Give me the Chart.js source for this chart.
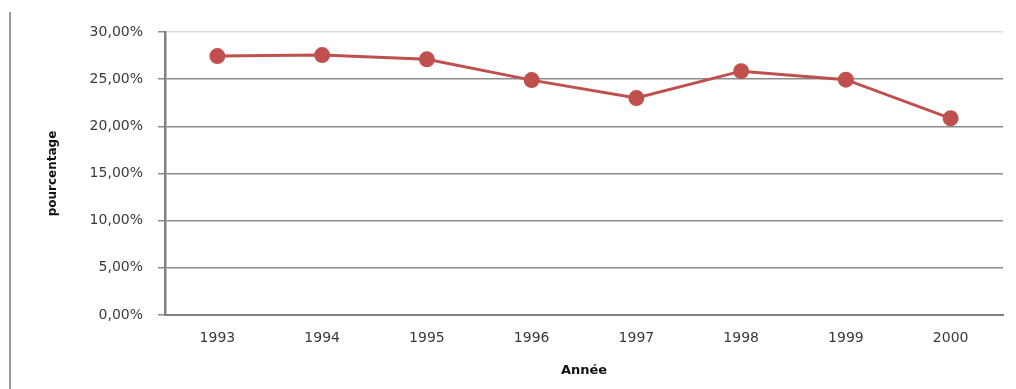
<!DOCTYPE html>
<html>
<head>
<meta charset="utf-8">
<script src="https://cdn.jsdelivr.net/npm/chart.js@4/dist/chart.umd.min.js"></script>
<style>
  html, body { margin: 0; padding: 0; background: #fff; }
  #cadre { position: relative; width: 1016px; height: 389px; }
  #bord { position: absolute; left: 9px; top: 12px; width: 2px; height: 377px; background: #9a9a9a; }
</style>
</head>
<body>
<div id="cadre">
  <div id="bord"></div>
  <canvas id="graphique" width="1016" height="389"></canvas>
</div>
<script>
var couleurLigne = "#c0504d";
var couleurGrille = "#8c8c8c";
var couleurAxe = "#7f7f7f";

var annees = ['1993', '1994', '1995', '1996', '1997', '1998', '1999', '2000'];

var pourcentages = [27.45, 27.55, 27.1, 24.9, 23.0, 25.85, 24.95, 20.85];

var graduations = [0, 5, 10, 15, 20, 25, 30];

var policeTicks = { family: "DejaVu Sans", size: 14 };

var donnees = {
    labels: annees,
    datasets: [{
        label: 'pourcentage',
        data: pourcentages,
        borderColor: couleurLigne,
        backgroundColor: couleurLigne,
        borderWidth: 3,
        pointRadius: 6.5,
        pointHoverRadius: 6.5,
        pointBackgroundColor: couleurLigne,
        pointBorderColor: couleurLigne,
        tension: 0
    }]
};

var configuration = {
    type: 'line',
    data: donnees,
    options: {
        responsive: false,
        animation: false,
        layout: { padding: { top: 32, right: 13, bottom: 0, left: 0 } },
        plugins: { legend: { display: false }, tooltip: { enabled: false } },
        scales: {
            x: {
                offset: true,
                grid: { display: true, drawOnChartArea: false, drawTicks: false, color: 'transparent' },
                border: { display: true, color: couleurAxe, width: 2 },
                ticks: { color: '#3a3a3a', font: policeTicks, padding: 15, maxRotation: 0 },
                title: { display: true, text: 'Année', color: '#111',
                         font: { family: "DejaVu Sans", size: 13, weight: 'bold' },
                         padding: { top: 0, bottom: 11 } },
                afterFit: function (echelle) { echelle.height = 74; }
            },
            y: {
                min: 0,
                max: 30,
                afterBuildTicks: function (echelle) {
                    echelle.ticks = graduations.map(function (v) { return { value: v }; });
                },
                grid: {
                    color: function (ctx) { return ctx.tick && ctx.tick.value === 30 ? '#dcdcdc' : couleurGrille; },
                    lineWidth: 1.5,
                    tickLength: 7,
                    tickColor: couleurGrille
                },
                border: { display: true, color: couleurAxe, width: 2.5 },
                ticks: {
                    color: '#3a3a3a',
                    font: policeTicks,
                    padding: 15,
                    callback: function (v) { return v.toFixed(2).replace('.', ',') + '%'; }
                },
                title: { display: true, text: 'pourcentage', color: '#111',
                         font: { family: "DejaVu Sans", size: 12, weight: 'bold' },
                         padding: { top: 46, bottom: 0 } },
                afterFit: function (echelle) { echelle.width = 165; }
            }
        }
    }
};

var graphique = new Chart(document.getElementById('graphique'), configuration);
</script>
</body>
</html>
